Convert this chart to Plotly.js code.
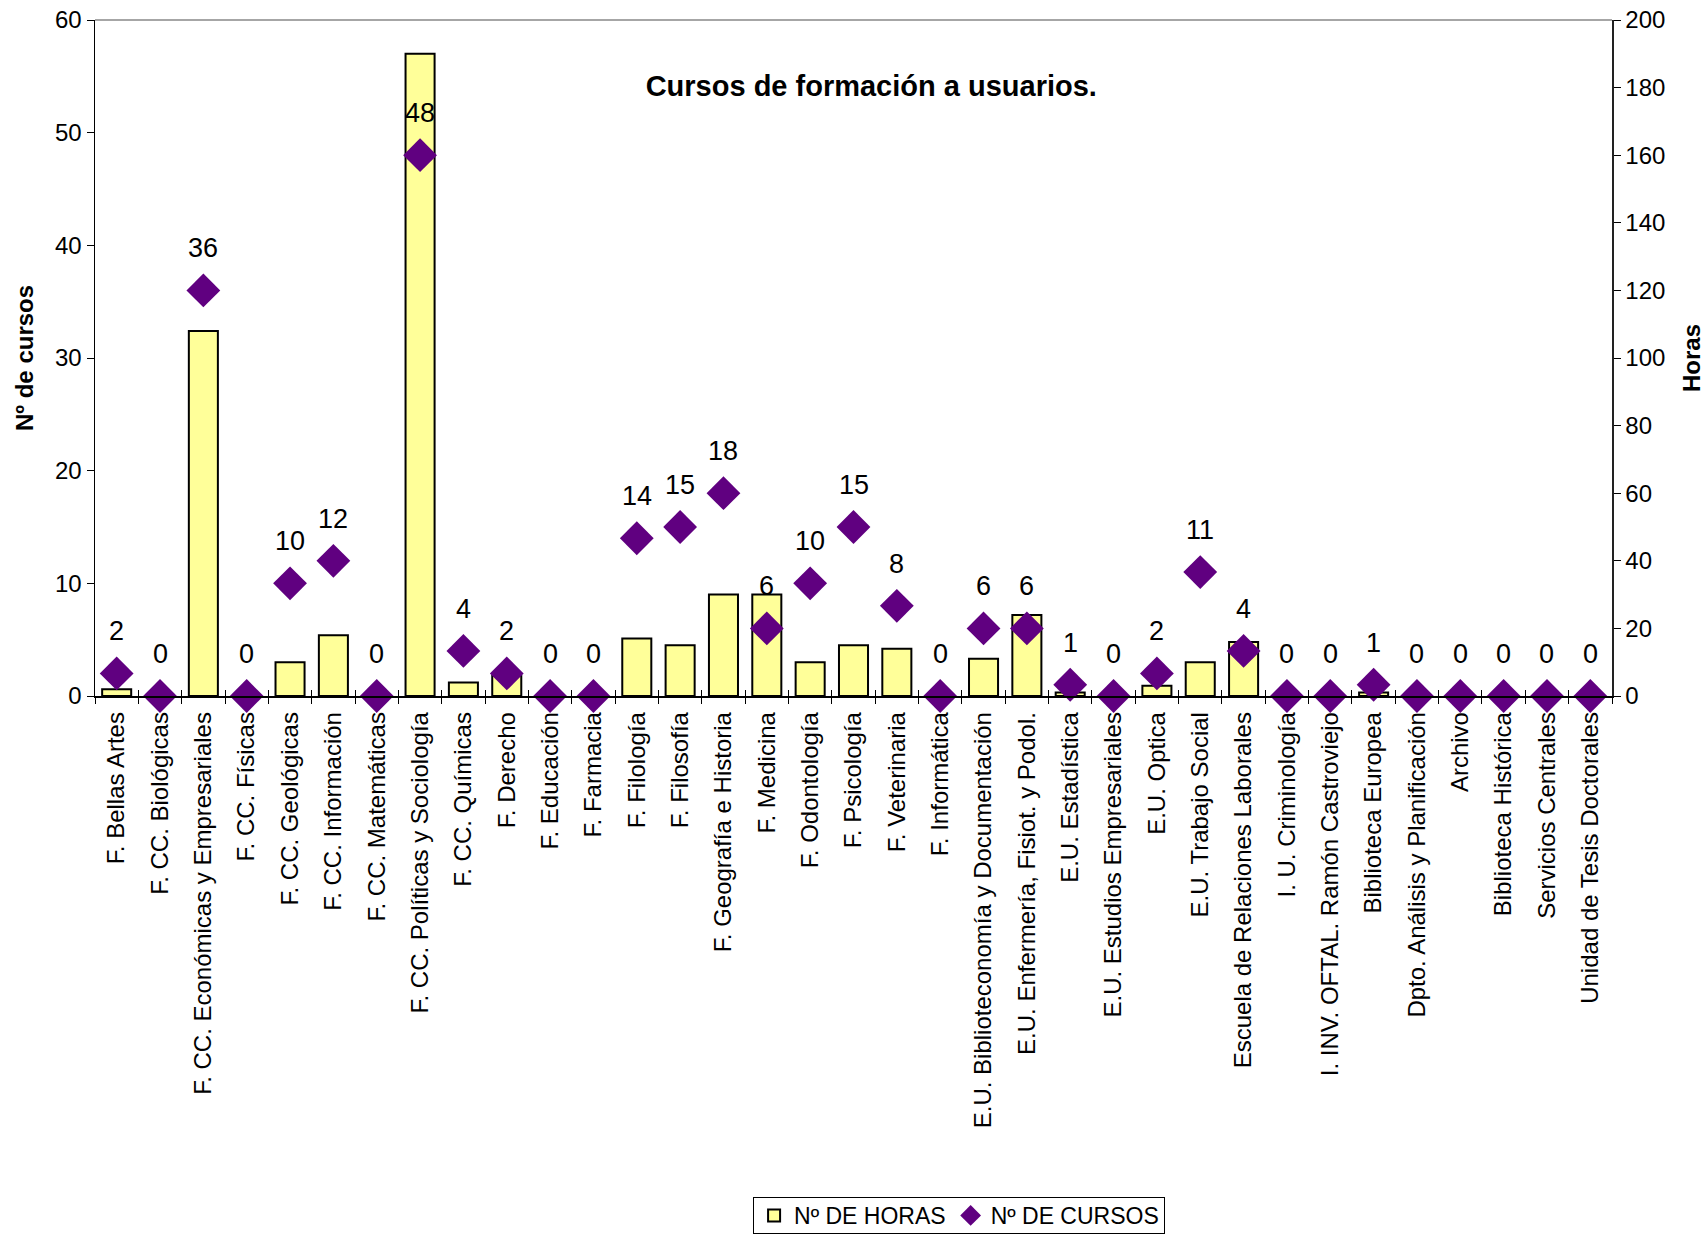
<!DOCTYPE html>
<html>
<head>
<meta charset="utf-8">
<script src="https://cdn.plot.ly/plotly-3.0.1.min.js"></script>
<style>html,body{margin:0;padding:0;background:#fff;}#chart{width:1706px;height:1236px;}</style>
</head>
<body>
<div id="chart"></div>
<script>
const categories = [
  "F. Bellas Artes", "F. CC. Biológicas", "F. CC. Económicas y Empresariales", "F. CC. Físicas",
  "F. CC. Geológicas", "F. CC. Información", "F. CC. Matemáticas", "F. CC. Políticas y Sociología",
  "F. CC. Químicas", "F. Derecho", "F. Educación", "F. Farmacia", "F. Filología", "F. Filosofía",
  "F. Geografía e Historia", "F. Medicina", "F. Odontología", "F. Psicología", "F. Veterinaria",
  "F. Informática", "E.U. Biblioteconomía y Documentación", "E.U. Enfermería, Fisiot. y Podol.",
  "E.U. Estadística", "E.U. Estudios Empresariales", "E.U. Optica", "E.U. Trabajo Social",
  "Escuela de Relaciones Laborales", "I. U. Criminología", "I. INV. OFTAL. Ramón Castroviejo",
  "Biblioteca Europea", "Dpto. Análisis y Planificación", "Archivo", "Biblioteca Histórica",
  "Servicios Centrales", "Unidad de Tesis Doctorales"
];
const horas = [2, 0, 108, 0, 10, 18, 0, 190, 4, 6, 0, 0, 17, 15, 30, 30, 10, 15, 14, 0, 11, 24, 1, 0, 3, 10, 16, 0, 0, 1, 0, 0, 0, 0, 0];
const cursos = [2, 0, 36, 0, 10, 12, 0, 48, 4, 2, 0, 0, 14, 15, 18, 6, 10, 15, 8, 0, 6, 6, 1, 0, 2, 11, 4, 0, 0, 1, 0, 0, 0, 0, 0];
const seriesNames = ["Nº DE HORAS", "Nº DE CURSOS"];
const chartTitle = "Cursos de formación a usuarios.";
const leftTitle = "Nº de cursos";
const rightTitle = "Horas";

const FONT = "Liberation Sans, Arial, sans-serif";

const traces = [
  {
    type: "bar", name: seriesNames[0], x: categories, y: horas, yaxis: "y", xaxis: "x",
    marker: {color: "#FFFF99", line: {color: "#000000", width: 2}},
    hoverinfo: "x+y"
  },
  {
    type: "scatter", mode: "markers", name: seriesNames[1], x: categories, y: cursos, yaxis: "y2", xaxis: "x",
    marker: {symbol: "diamond", size: 26, color: "#600080", line: {width: 0}},
    cliponaxis: false
  },
  {
    // invisible helper so the overlay axis draws the inner half of the crossing ticks
    type: "scatter", mode: "markers", x: categories, y: categories.map(() => null),
    xaxis: "x2", yaxis: "y", showlegend: false, hoverinfo: "skip", marker: {opacity: 0}
  }
];

const annotations = categories.map((c, i) => ({
  x: c, y: cursos[i], xref: "x", yref: "y2", text: String(cursos[i]),
  showarrow: false, yshift: 42, font: {family: FONT, size: 27, color: "#000"}
}));

const layout = {
  width: 1706, height: 1236,
  paper_bgcolor: "#ffffff", plot_bgcolor: "#ffffff",
  margin: {l: 95, r: 94, t: 20, b: 540},
  font: {family: FONT, size: 24, color: "#000"},
  title: {
    text: chartTitle, x: 873/1706, xanchor: "center", xref: "paper",
    y: 1 - 86/1236, yanchor: "middle", yref: "container",
    font: {family: FONT, size: 29, weight: "bold", color: "#000"}
  },
  showlegend: true,
  legend: {
    orientation: "h", x: 0.5696, xanchor: "center", xref: "paper",
    y: 1 - 1197/1236, yanchor: "top", yref: "container",
    bordercolor: "#000", borderwidth: 1, bgcolor: "#fff",
    font: {family: FONT, size: 23, color: "#000"}, itemwidth: 30, valign: "middle"
  },
  bargap: 0.33,
  xaxis: {
    type: "category", range: [-0.5, 34.5], tickangle: -90,
    tickson: "boundaries", ticks: "outside", ticklen: 6, tickcolor: "#000", tickwidth: 1,
    ticklabelstandoff: 5,
    showline: true, linecolor: "#000", linewidth: 1.5, showgrid: false, zeroline: false,
    tickfont: {family: FONT, size: 24, color: "#000"}, automargin: false
  },
  xaxis2: {
    type: "category", overlaying: "x", side: "bottom", matches: "x", anchor: "y",
    tickson: "boundaries", ticks: "inside", ticklen: 6, tickcolor: "#000", tickwidth: 1,
    showticklabels: false, showline: false, showgrid: false, zeroline: false
  },
  yaxis: {
    side: "right", range: [0, 200], dtick: 20, tick0: 0,
    ticks: "outside", ticklen: 7, tickcolor: "#000",
    showline: true, linecolor: "#222", linewidth: 1.5, showgrid: false, zeroline: false,
    tickfont: {family: FONT, size: 24, color: "#000"},
    title: {text: rightTitle, standoff: 19, font: {family: FONT, size: 24, weight: "bold", color: "#000"}},
    automargin: false
  },
  yaxis2: {
    overlaying: "y", side: "left", range: [0, 60], dtick: 10, tick0: 0,
    ticks: "outside", ticklen: 7, tickcolor: "#000",
    showline: true, linecolor: "#000", linewidth: 1.5, showgrid: false, zeroline: false,
    tickfont: {family: FONT, size: 24, color: "#000"},
    title: {text: leftTitle, standoff: 14, font: {family: FONT, size: 24, weight: "bold", color: "#000"}},
    automargin: false
  },
  shapes: [
    {type: "line", xref: "paper", yref: "paper", x0: 0, x1: 1, y0: 1, y1: 1, line: {color: "#888", width: 1.5}}
  ],
  annotations: annotations
};

Plotly.newPlot("chart", traces, layout, {displayModeBar: false, staticPlot: true}).then(gd => {
  // tighten legend box height to match the reference (~36px tall)
  const bg = gd.querySelector('.legend .bg');
  if (bg) {
    const h = parseFloat(bg.getAttribute('height'));
    if (h > 38) {
      const d = (h - 36) / 2;
      bg.setAttribute('height', 36);
      const scroll = gd.querySelector('.legend .scrollbox');
      if (scroll) scroll.setAttribute('transform', 'translate(0,' + (-d) + ')');
    }
  }
});
</script>
</body>
</html>
